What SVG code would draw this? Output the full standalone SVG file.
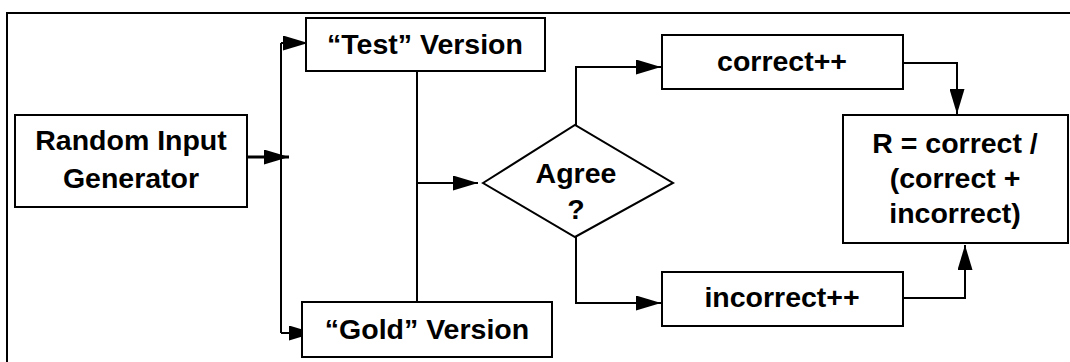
<svg xmlns="http://www.w3.org/2000/svg" width="1070" height="362" viewBox="0 0 1070 362">
<style>
.box{fill:#fff;stroke:#000;stroke-width:2}
.ln{fill:none;stroke:#000;stroke-width:2}
.t{font-family:"Liberation Sans",Arial,sans-serif;font-weight:bold;font-size:28.5px;fill:#000;text-anchor:middle}
</style>
<defs>
<marker id="ah" viewBox="0 0 25 15" refX="25" refY="7.5" markerWidth="25" markerHeight="15" markerUnits="userSpaceOnUse" orient="auto">
<path d="M0,0 L25,7.5 L0,15 Z" fill="#000"/>
</marker>
</defs>
<rect width="1070" height="362" fill="#fff"/>
<path class="ln" d="M7,362 V13 H1070"/>
<g id="connectors">
<path class="ln" style="stroke-width:3" d="M247,157 H289" marker-end="url(#ah)"/>
<path class="ln" d="M281,43 V333"/>
<path class="ln" d="M281,43 H308" marker-end="url(#ah)"/>
<path class="ln" d="M281,333 H314" marker-end="url(#ah)"/>
<path class="ln" d="M417,71 V302"/>
<path class="ln" d="M417,183 H478" marker-end="url(#ah)"/>
<path class="ln" d="M576,125 V67 H661" marker-end="url(#ah)"/>
<path class="ln" d="M576,237 V303 H661" marker-end="url(#ah)"/>
<path class="ln" d="M903,63 H957 V114" marker-end="url(#ah)"/>
<path class="ln" d="M903,298 H965 V245" marker-end="url(#ah)"/>
</g>
<g id="random-input-generator">
<rect class="box" x="15" y="115" width="232" height="92"/>
<text class="t" x="131" y="150">Random Input</text>
<text class="t" x="131" y="188">Generator</text>
</g>
<g id="test-version">
<rect class="box" x="306" y="18" width="239" height="53"/>
<text class="t" x="425" y="54">“Test” Version</text>
</g>
<g id="gold-version">
<rect class="box" x="302" y="302" width="250" height="55"/>
<text class="t" x="427" y="339">“Gold” Version</text>
</g>
<g id="agree">
<path class="box" d="M483,183 L575,125 L673,183 L575,237 Z"/>
<text class="t" x="576" y="183">Agree</text>
<text class="t" x="576" y="219">?</text>
</g>
<g id="correct">
<rect class="box" x="662" y="35" width="241" height="54"/>
<text class="t" x="782" y="71">correct++</text>
</g>
<g id="incorrect">
<rect class="box" x="662" y="272" width="241" height="54"/>
<text class="t" x="782" y="307">incorrect++</text>
</g>
<g id="result">
<rect class="box" x="843" y="115" width="225" height="128"/>
<text class="t" x="955" y="153">R = correct /</text>
<text class="t" x="955" y="188">(correct +</text>
<text class="t" x="955" y="223">incorrect)</text>
</g>
</svg>
